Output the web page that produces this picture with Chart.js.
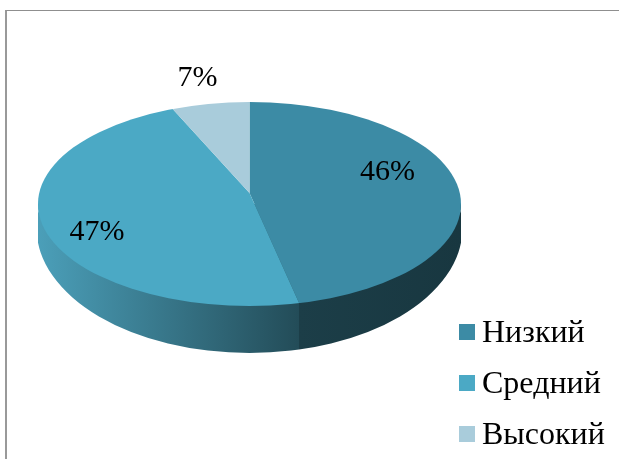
<!DOCTYPE html>
<html><head><meta charset="utf-8">
<style>
html,body{margin:0;padding:0;background:#fff;overflow:hidden}
#wrap{position:relative;width:619px;height:459px}
#frame{position:absolute;left:5px;top:10px;right:0;bottom:0;border-left:2px solid #999;border-top:1px solid #8f8f8f}
canvas{position:absolute;left:0;top:0}
</style>
<script src="https://cdn.jsdelivr.net/npm/chart.js@4"></script>
</head><body>
<div id="wrap"><div id="frame"></div><canvas id="c" width="619" height="459"></canvas></div>
<script>
const categories = ['Низкий', 'Средний', 'Высокий'];
const values = [46.2, 46.5, 7.3];
const topColors = ['#3c8ba5', '#4ba9c5', '#a9ccdb'];
const wallStops = [['#1c3e48', '#183740'], ['#4b9fb9', '#234c58'], ['#a9ccdb', '#a9ccdb']];
const labelOffsets = [[138, -32], [-152.5, 28], [-52, -126]];
const FONT = '"Liberation Serif", "Times New Roman", serif';

const view = { squash: 0.482, shiftY: -7.5, apexUp: 11, sx: 1.5, sy: 0.81, lowCy: 24, lowRy: 125, lowRx: 1.007 };
const legendBox = { left: 440, top: 299, boxW: 7, swatch: 16, size: 32, gap: 19, swatchTop: 324 };

function geometry(arc) {
  const rx = arc.outerRadius, ry = rx * view.squash;
  const cx = arc.x, cy = arc.y + view.shiftY;
  return { rx, ry, cx, cy, ax: cx, ay: cy - view.apexUp };
}
function rimAngle(g, t) {
  const dx = view.sx * Math.cos(t), dy = view.sy * Math.sin(t);
  const ox = (g.ax - g.cx) / g.rx, oy = (g.ay - g.cy) / g.ry;
  const ux = dx / g.rx, uy = dy / g.ry;
  const A = ux * ux + uy * uy, B = 2 * (ox * ux + oy * uy), C = ox * ox + oy * oy - 1;
  const s = (-B + Math.sqrt(B * B - 4 * A * C)) / (2 * A);
  let a = Math.atan2(oy + s * uy, ox + s * ux);
  if (a < -Math.PI / 2 - 1e-6) a += 2 * Math.PI;
  return a;
}

const pie3d = {
  id: 'pie3d',
  afterLayout(chart) {
    const lg = chart.legend;
    const w = lg.width, h = lg.height;
    lg.left = legendBox.left; lg.top = legendBox.top; lg.right = lg.left + w; lg.bottom = lg.top + h;
  },
  beforeDatasetsDraw(chart) {
    const arcs = chart.getDatasetMeta(0).data;
    const ctx = chart.ctx, g = geometry(arcs[0]);
    arcs.forEach((arc, i) => {
      let a = rimAngle(g, arc.startAngle), b = rimAngle(g, arc.endAngle);
      if (b < a) b += 2 * Math.PI;
      const from = Math.max(a, 0), to = Math.min(b, Math.PI);
      if (to <= from) return;
      const x1 = Math.round(g.cx + g.rx * Math.cos(to)), x2 = Math.round(g.cx + g.rx * Math.cos(from));
      const grad = ctx.createLinearGradient(x1, 0, x2, 0);
      grad.addColorStop(0, wallStops[i][0]);
      grad.addColorStop(1, wallStops[i][1]);
      ctx.save();
      ctx.beginPath();
      ctx.rect(x1, g.cy, x2 - x1, chart.height - g.cy);
      ctx.clip();
      ctx.beginPath();
      ctx.ellipse(g.cx, g.cy, g.rx, g.ry, 0, 0, 2 * Math.PI);
      ctx.moveTo(g.cx + g.rx * view.lowRx, g.cy + view.lowCy);
      ctx.ellipse(g.cx, g.cy + view.lowCy, g.rx * view.lowRx, view.lowRy, 0, 0, 2 * Math.PI);
      ctx.fillStyle = grad;
      ctx.fill();
      ctx.restore();
    });
    ctx.save();
    ctx.beginPath();
    ctx.ellipse(g.cx, g.cy, g.rx, g.ry, 0, 0, 2 * Math.PI);
    ctx.clip();
    ctx.translate(g.ax, g.ay);
    ctx.scale(view.sx, view.sy);
    ctx.translate(-arcs[0].x, -arcs[0].y);
  },
  afterDatasetsDraw(chart) {
    const ctx = chart.ctx;
    ctx.restore();
    const g = geometry(chart.getDatasetMeta(0).data[0]);
    ctx.save();
    ctx.font = '30px ' + FONT;
    ctx.fillStyle = '#000';
    ctx.textAlign = 'center';
    ctx.textBaseline = 'middle';
    values.forEach((v, i) => {
      ctx.fillText(Math.round(v) + '%', g.cx + labelOffsets[i][0], g.cy + labelOffsets[i][1]);
    });
    ctx.restore();
  },
  afterDraw(chart) {
    const lg = chart.legend, ctx = chart.ctx, L = legendBox;
    topColors.forEach((c, i) => {
      ctx.fillStyle = c;
      ctx.fillRect(lg.left + L.gap, L.swatchTop + i * (L.size + L.gap), L.swatch, L.swatch);
    });
  }
};

new Chart(document.getElementById('c'), {
  type: 'pie',
  data: {
    labels: categories,
    datasets: [{ data: values, backgroundColor: topColors, borderWidth: 0, hoverOffset: 0 }]
  },
  options: {
    responsive: false,
    animation: false,
    events: [],
    layout: { padding: { left: 38, right: 158, top: 0, bottom: 36 } },
    plugins: {
      tooltip: { enabled: false },
      title: { display: false },
      legend: {
        position: 'chartArea',
        align: 'start',
        labels: {
          boxWidth: legendBox.boxW, boxHeight: legendBox.swatch, padding: legendBox.gap, color: '#000',
          font: { family: FONT, size: legendBox.size },
          generateLabels: (chart) => categories.map((text, i) => ({
            text, index: i, fillStyle: 'rgba(0,0,0,0)', strokeStyle: 'rgba(0,0,0,0)', lineWidth: 0, hidden: false
          }))
        }
      }
    }
  },
  plugins: [pie3d]
});
</script>
</body></html>
